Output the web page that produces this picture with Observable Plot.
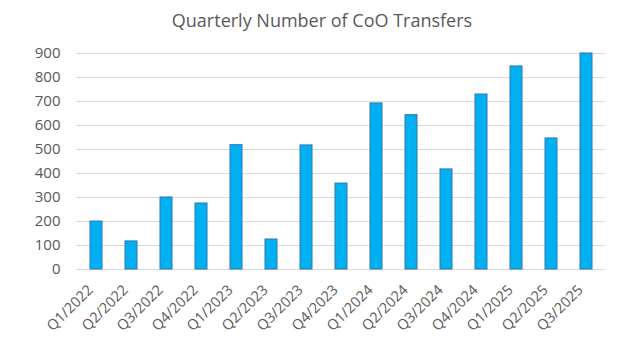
<!DOCTYPE html>
<html>
<head>
<meta charset="utf-8">
<script src="https://cdn.jsdelivr.net/npm/d3@7"></script>
<script src="https://cdn.jsdelivr.net/npm/@observablehq/plot@0.6"></script>
<style>
  html, body { margin: 0; padding: 0; background: #fff; overflow: hidden; }
  #title { height: 38px; line-height: 40px; text-align: center; font-family: "Open Sans", "Noto Sans", sans-serif; font-size: 18px; color: #595959; width: 630px; padding-left: 14px; box-sizing: border-box; }
  #chart svg { display: block; }
</style>
</head>
<body>
<div id="title">Quarterly Number of CoO Transfers</div>
<div id="chart"></div>
<script>
const quarters = ["Q1/2022","Q2/2022","Q3/2022","Q4/2022","Q1/2023","Q2/2023","Q3/2023","Q4/2023","Q1/2024","Q2/2024","Q3/2024","Q4/2024","Q1/2025","Q2/2025","Q3/2025"];
const transfers = [200, 117, 300, 275, 518, 125, 517, 358, 692, 643, 417, 729, 846, 546, 900];
const yTicks = [0, 100, 200, 300, 400, 500, 600, 700, 800, 900];

const data = quarters.map((q, i) => ({quarter: q, value: transfers[i]}));

const chart = Plot.plot({
  width: 630,
  height: 316,
  marginTop: 15,
  marginBottom: 85,
  marginLeft: 76,
  marginRight: 25,
  style: {fontFamily: "'Open Sans', 'Noto Sans', sans-serif", color: "#595959", background: "#fff"},
  x: {domain: quarters, paddingInner: 0.67, paddingOuter: 0.335, label: null},
  y: {domain: [0, 900], label: null},
  marks: [
    Plot.gridY(yTicks, {stroke: "#D9D9D9", strokeOpacity: 1, strokeWidth: 1}),
    Plot.barY(data, {x: "quarter", y: "value", fill: "#00B0F0", stroke: "#2E75B6", strokeWidth: 1}),
    Plot.axisY({ticks: yTicks, tickSize: 0, tickPadding: 16, fontSize: 15, label: null}),
    Plot.axisX({tickSize: 0, tickRotate: -45, tickPadding: 18, dx: -6, fontSize: 14.5, label: null})
  ]
});
document.getElementById("chart").appendChild(chart);
</script>
</body>
</html>
